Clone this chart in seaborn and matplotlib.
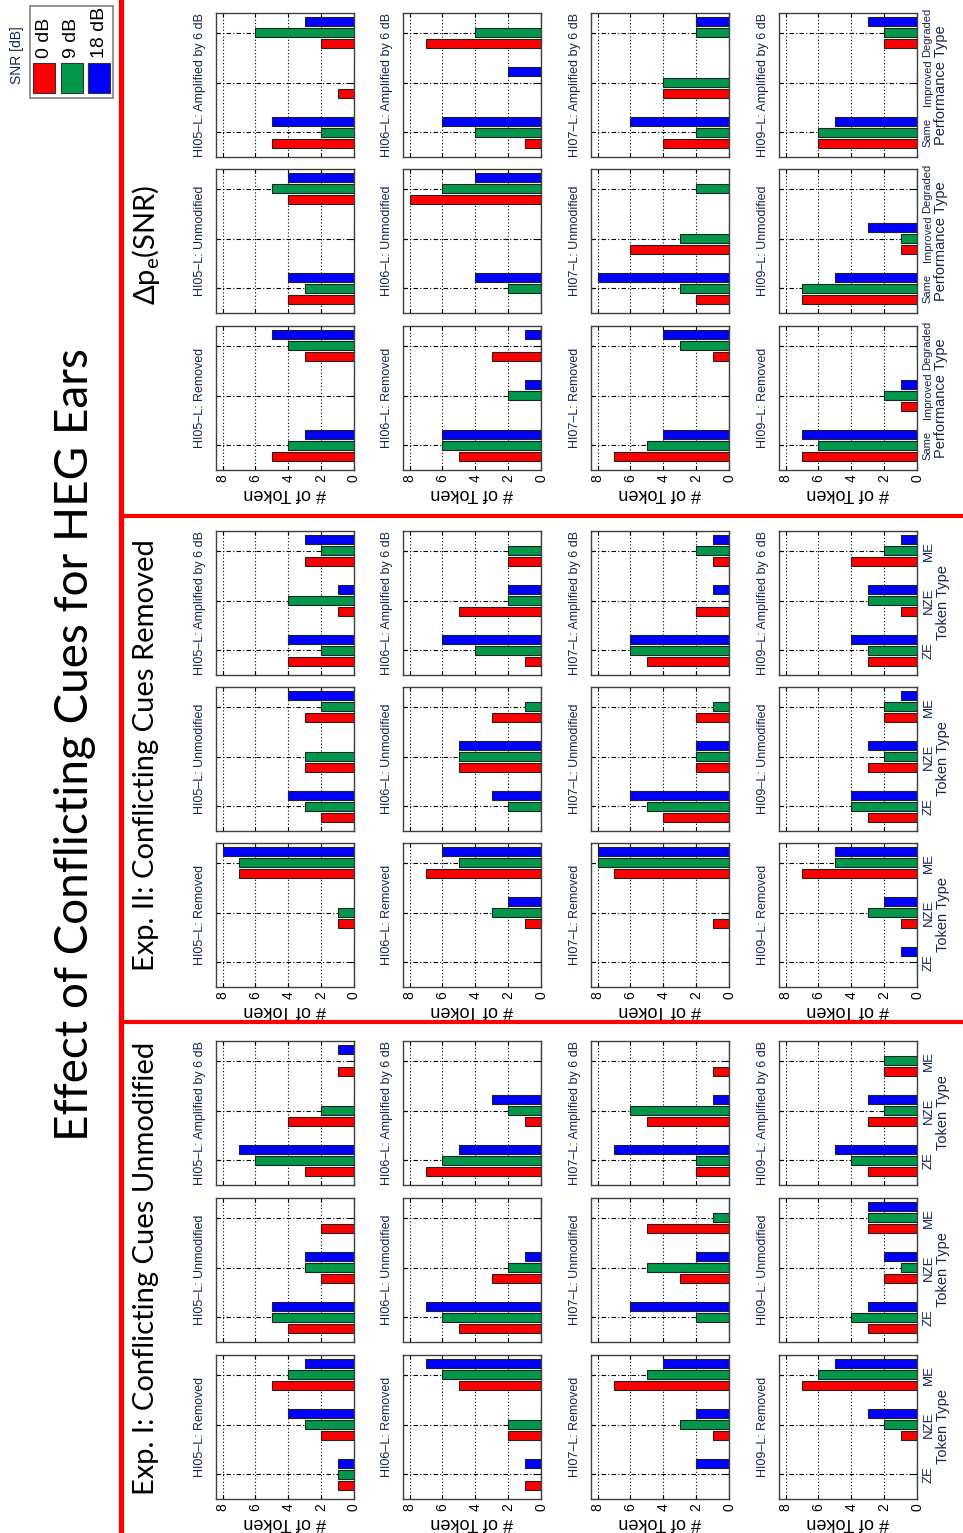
import matplotlib
matplotlib.use('Agg')
import matplotlib.pyplot as plt
import seaborn as sns
import pandas as pd
from matplotlib.lines import Line2D
from matplotlib.patches import Rectangle

# Values: [listener][category][snr]
listeners = ['HI05', 'HI06', 'HI07', 'HI09']
snr_levels = ['0 dB', '9 dB', '18 dB']
snr_colors = ['#ff0000', '#00994c', '#0000ff']
token_types = ['ZE', 'NZE', 'ME']
perf_types = ['Same', 'Improved', 'Degraded']
conditions = ['Amplified by 6 dB', 'Unmodified', 'Removed']

exp1_amplified = [[[3, 6, 7], [4, 2, 0], [1, 0, 1]],
                  [[7, 6, 5], [1, 2, 3], [0, 0, 0]],
                  [[2, 2, 7], [5, 6, 1], [1, 0, 0]],
                  [[3, 4, 5], [3, 2, 3], [2, 2, 0]]]
exp1_unmodified = [[[4, 5, 5], [2, 3, 3], [2, 0, 0]],
                   [[5, 6, 7], [3, 2, 1], [0, 0, 0]],
                   [[0, 2, 6], [3, 5, 2], [5, 1, 0]],
                   [[3, 4, 3], [2, 1, 2], [3, 3, 3]]]
exp1_removed = [[[1, 1, 1], [2, 3, 4], [5, 4, 3]],
                [[1, 0, 1], [2, 2, 0], [5, 6, 7]],
                [[0, 0, 2], [1, 3, 2], [7, 5, 4]],
                [[0, 0, 0], [1, 2, 3], [7, 6, 5]]]

exp2_amplified = [[[4, 2, 4], [1, 4, 1], [3, 2, 3]],
                  [[1, 4, 6], [5, 2, 2], [2, 2, 0]],
                  [[5, 6, 6], [2, 0, 1], [1, 2, 1]],
                  [[3, 3, 4], [1, 3, 3], [4, 2, 1]]]
exp2_unmodified = [[[2, 3, 4], [3, 3, 0], [3, 2, 4]],
                   [[0, 2, 3], [5, 5, 5], [3, 1, 0]],
                   [[4, 5, 6], [2, 2, 2], [2, 1, 0]],
                   [[3, 4, 4], [3, 2, 3], [2, 2, 1]]]
exp2_removed = [[[0, 0, 0], [1, 1, 0], [7, 7, 8]],
                [[0, 0, 0], [1, 3, 2], [7, 5, 6]],
                [[0, 0, 0], [1, 0, 0], [7, 8, 8]],
                [[0, 0, 1], [1, 3, 2], [7, 5, 5]]]

dpe_amplified = [[[5, 2, 5], [1, 0, 0], [2, 6, 3]],
                 [[1, 4, 6], [0, 0, 2], [7, 4, 0]],
                 [[4, 2, 6], [4, 4, 0], [0, 2, 2]],
                 [[6, 6, 5], [0, 0, 0], [2, 2, 3]]]
dpe_unmodified = [[[4, 3, 4], [0, 0, 0], [4, 5, 4]],
                  [[0, 2, 4], [0, 0, 0], [8, 6, 4]],
                  [[2, 3, 8], [6, 3, 0], [0, 2, 0]],
                  [[7, 7, 5], [1, 1, 3], [0, 0, 0]]]
dpe_removed = [[[5, 4, 3], [0, 0, 0], [3, 4, 5]],
               [[5, 6, 6], [0, 2, 1], [3, 0, 1]],
               [[7, 5, 4], [0, 0, 0], [1, 3, 4]],
               [[7, 6, 7], [1, 2, 1], [0, 0, 0]]]

plt.rcParams['font.family'] = ['Liberation Sans', 'DejaVu Sans']
big = ['Lato', 'Open Sans', 'DejaVu Sans']
navy = '#16254f'

W, H = 963, 1533
fig = plt.figure(figsize=(W / 100, H / 100), dpi=100)


def fx(px):
    return px / W


def fy(py):
    return 1 - py / H


col_x = [216, 403, 591, 779]
panel_w, panel_h = 138, 144
sections = [
    ([dpe_amplified, dpe_unmodified, dpe_removed], perf_types, 'Performance Type', [13, 169, 326]),
    ([exp2_amplified, exp2_unmodified, exp2_removed], token_types, 'Token Type', [531, 687, 843]),
    ([exp1_amplified, exp1_unmodified, exp1_removed], token_types, 'Token Type', [1041, 1198, 1355]),
]


def draw_panel(ax, counts, cats, title, show_x, ylab):
    df = pd.DataFrame([(c, s, counts[i][j]) for i, c in enumerate(cats)
                       for j, s in enumerate(snr_levels)], columns=['type', 'snr', 'n'])
    sns.barplot(data=df, x='n', y='type', hue='snr', order=cats, hue_order=snr_levels,
                palette=snr_colors, orient='h', width=0.66, gap=0.18, saturation=1,
                edgecolor='#222222', linewidth=0.8, errorbar=None, legend=False, ax=ax)
    ax.set_xlim(8.4, 0)
    ax.set_ylim(-0.5, 2.4)
    ax.set_xticks([0, 2, 4, 6, 8])
    ax.set_axisbelow(True)
    ax.xaxis.grid(True, color='k', linestyle=(0, (1, 2)), linewidth=0.8)
    ax.yaxis.grid(True, color='k', linestyle=(0, (4, 2, 1, 2)), linewidth=0.8)
    for sp in ax.spines.values():
        sp.set_color('#404040')
        sp.set_linewidth(1.0)
    ax.tick_params(direction='in', length=3, top=True, right=True, left=True, bottom=True)
    ax.tick_params(axis='x', labelbottom=show_x, labelrotation=90, labelsize=10, pad=3)
    ax.tick_params(axis='y', labelleft=False, labelright=ylab is not None, pad=4)
    lab_size = 8 if cats == perf_types else 9.5
    for lbl in ax.get_yticklabels():
        lbl.set_rotation(90)
        lbl.set_va('center')
        lbl.set_fontsize(lab_size)
        lbl.set_color(navy)
    if show_x:
        ax.set_xlabel('# of Token', rotation=180, fontsize=13, labelpad=2)
    else:
        ax.set_xlabel('')
    if ylab is not None:
        ax.yaxis.set_label_position('right')
        ax.set_ylabel(ylab, rotation=90, fontsize=10.5, color=navy, labelpad=1)
    else:
        ax.set_ylabel('')
    ax.annotate(title, xy=(0, 0.5), xycoords='axes fraction', xytext=(-7, 0),
                textcoords='offset points', rotation=90, ha='right', va='center',
                fontsize=9, color=navy)


for data_list, cats, ylab_text, tops in sections:
    for r, (counts_all, cond, top) in enumerate(zip(data_list, conditions, tops)):
        for c, (name, x0) in enumerate(zip(listeners, col_x)):
            ax = fig.add_axes([fx(x0), fy(top + panel_h), panel_w / W, panel_h / H])
            draw_panel(ax, counts_all[c], cats, f'{name}\u2013L: {cond}',
                       show_x=(r == 2), ylab=ylab_text if c == 3 else None)

# red separators
fig.add_artist(Line2D([fx(121), fx(121)], [0, 1], transform=fig.transFigure,
                      color='#ff0000', linewidth=3.8))
for yy in [516, 1022]:
    fig.add_artist(Line2D([fx(121), 1], [fy(yy), fy(yy)], transform=fig.transFigure,
                          color='#ff0000', linewidth=3.0))

# titles
fig.text(fx(75), fy(745), 'Effect of Conflicting Cues for HEG Ears', rotation=90,
         ha='center', va='center', fontsize=33, family=big)
fig.text(fx(146), fy(1268), 'Exp. I: Conflicting Cues Unmodified', rotation=90,
         ha='center', va='center', fontsize=21, family=big)
fig.text(fx(146), fy(755), 'Exp. II: Conflicting Cues Removed', rotation=90,
         ha='center', va='center', fontsize=21, family=big)
fig.text(fx(146), fy(245), '\u0394p$_\\mathregular{e}$(SNR)', rotation=90,
         ha='center', va='center', fontsize=21, family=big)

# legend (drawn rotated like the rest of the page)
fig.add_artist(Rectangle((fx(30), fy(98)), 83 / W, 92 / H, transform=fig.transFigure,
                         facecolor='white', edgecolor='#808080', linewidth=1.2))
fig.text(fx(17), fy(84), 'SNR [dB]', rotation=90, ha='center', va='bottom',
         fontsize=10, color=navy)
for i, (lab, col) in enumerate(zip(snr_levels, snr_colors)):
    px = 33 + i * 27.5
    fig.add_artist(Rectangle((fx(px), fy(93)), 22 / W, 30 / H, transform=fig.transFigure,
                             facecolor=col, edgecolor='#333333', linewidth=0.8))
    fig.text(fx(px + 11), fy(58), lab, rotation=90, ha='center', va='bottom', fontsize=14)

fig.savefig('out.png', dpi=100)
